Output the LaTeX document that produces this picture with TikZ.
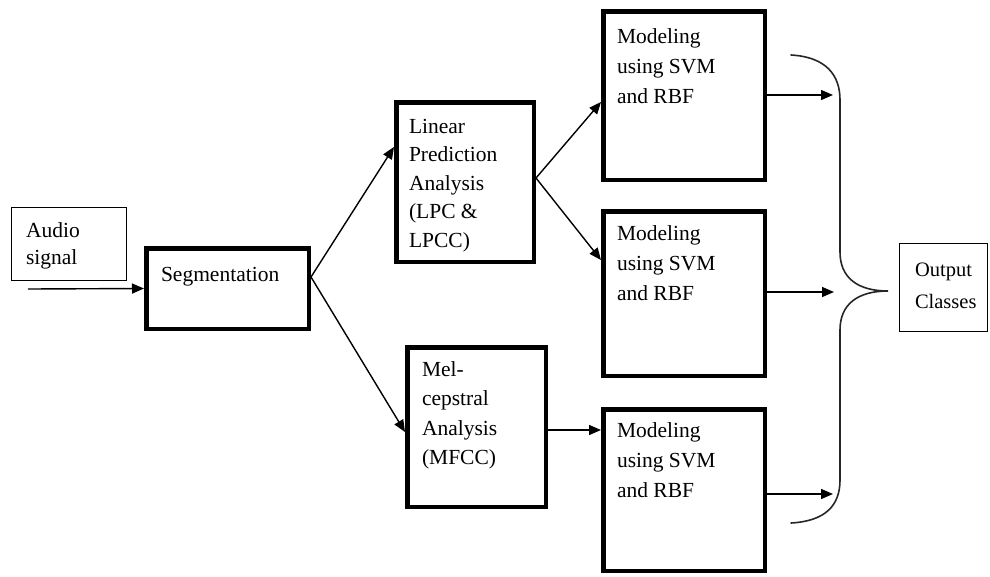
\documentclass[tikz,border=0pt]{standalone}
\usepackage{fontspec}
\setmainfont{Liberation Serif}
\usetikzlibrary{arrows.meta}
% multi-line block label; its baseline is the baseline of the first line
\newcommand\blocklines[3]{\parbox[t]{6cm}{\fontsize{#1}{#2}\selectfont #3}}
\begin{document}
\begin{tikzpicture}[x=1pt,y=-1pt,
  thinbox/.style={draw, line width=1.3pt, inner sep=0pt},
  thickbox/.style={draw, line width=4.5pt, inner sep=0pt},
  lbl/.style={anchor=base west, inner sep=0pt, outer sep=0pt},
  flow/.style={line width=1.4pt, -{Triangle[length=12pt,width=10pt]}},
  brace/.style={line width=1.6pt, draw=black!85, line cap=round}]
\useasboundingbox (0,0) rectangle (990,576);

% blocks
\node[thinbox,  minimum width=114.7pt, minimum height=72.7pt] (aud) at (69,244) {};
\node[thickbox, minimum width=162.5pt, minimum height=80.5pt]  (seg) at (227.5,288.5) {};
\node[thickbox, minimum width=137.5pt, minimum height=159.5pt] (lpc) at (465,182) {};
\node[thickbox, minimum width=138.5pt, minimum height=159.5pt] (mel) at (476.5,427) {};
\node[thickbox, minimum width=161.5pt, minimum height=168.5pt] (mA)  at (684,95.5) {};
\node[thickbox, minimum width=161.5pt, minimum height=164.5pt] (mB)  at (684,293.5) {};
\node[thickbox, minimum width=161.5pt, minimum height=161.5pt] (mC)  at (684,490) {};
\node[thinbox,  minimum width=87.7pt, minimum height=87.7pt] (out) at (943.5,287.5) {};

% block texts
\node[lbl] (audT) at (26,237)  {\blocklines{21.5}{27}{Audio\\signal}};
\node[lbl] (segT) at (161,281) {\blocklines{21.5}{28}{Segmentation}};
\node[lbl] (lpcT) at (409,133) {\blocklines{21.5}{28.5}{Linear\\Prediction\\Analysis\\(LPC \&\\LPCC)}};
\node[lbl] (melT) at (422,376) {\blocklines{21.5}{29.5}{Mel-\\cepstral\\Analysis\\(MFCC)}};
\node[lbl] (mAT)  at (617,43)  {\blocklines{21.5}{30}{Modeling\\using SVM\\and RBF}};
\node[lbl] (mBT)  at (617,240) {\blocklines{21.5}{30}{Modeling\\using SVM\\and RBF}};
\node[lbl] (mCT)  at (617,437) {\blocklines{21.5}{30}{Modeling\\using SVM\\and RBF}};
\node[lbl] (outT) at (915,276) {\blocklines{20.5}{32}{Output\\Classes}};

% free ends of the connectors
\coordinate (src) at (28,289);
\coordinate (eA) at (833,95);
\coordinate (eB) at (834,292);
\coordinate (eC) at (833,494);

% connectors
\draw[flow] (src) -- (seg.west);
\draw[flow] (seg.east |- 0,277) -- (lpc.west |- 0,147);
\draw[flow] (seg.east |- 0,277) -- (mel.west |- 0,432);
\draw[flow] (lpc.east |- 0,178) -- (mA.west |- 0,102);
\draw[flow] (lpc.east |- 0,178) -- (mB.west |- 0,260);
\draw[flow] (mel.east |- 0,430) -- (mC.west |- 0,430);
\draw[flow] (mA.east |- 0,95)  -- (eA);
\draw[flow] (mB.east |- 0,292) -- (eB);
\draw[flow] (mC.east |- 0,494) -- (eC);

% curly brace gathering the three model outputs
\draw[brace] (791,55) .. controls (826,57) and (840,75) .. (840,100)
  -- (840,252) .. controls (840,278) and (858,291) .. (888,291)
  .. controls (858,291) and (840,304) .. (840,330)
  -- (840,480) .. controls (840,505) and (826,521) .. (791,523);
\end{tikzpicture}
\end{document}
